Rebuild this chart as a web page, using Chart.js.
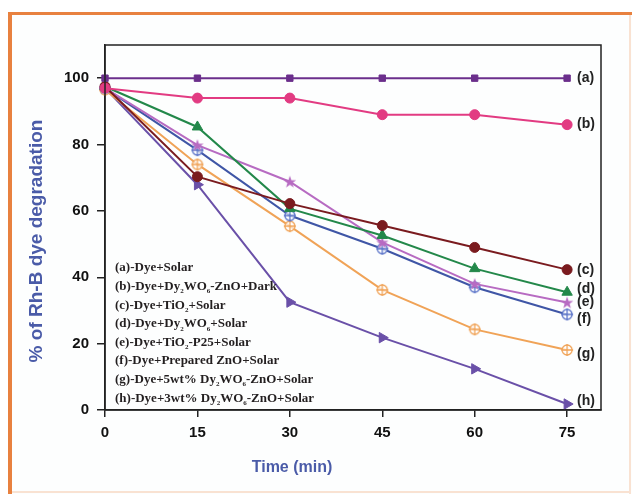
<!DOCTYPE html>
<html>
<head>
<meta charset="utf-8">
<script src="https://cdn.jsdelivr.net/npm/chart.js@4.4.1/dist/chart.umd.min.js"></script>
<style>
  html, body { margin: 0; padding: 0; background: #fff; }
  #cadre { width: 632px; height: 494px; }
</style>
</head>
<body>
<div id="cadre"><canvas id="graph"></canvas></div>
<script>
// temps d'irradiation (min)
const TEMPS = [0, 15, 30, 45, 60, 75];
const GRADUATIONS_Y = [0, 20, 40, 60, 80, 100];

// % de dégradation pour chaque échantillon
const SERIE_A = [100, 100, 100, 100, 100, 100];
const SERIE_B = [97, 94, 94, 89, 89, 86];
const SERIE_C = [97.5, 70.3, 62.2, 55.6, 49, 42.3];
const SERIE_D = [97.5, 85.3, 60.7, 52.6, 42.6, 35.5];
const SERIE_E = [97, 79.8, 68.8, 50.5, 38, 32.4];
const SERIE_F = [97, 78.3, 58.6, 48.6, 37, 28.8];
const SERIE_G = [96.5, 74, 55.4, 36.2, 24.3, 18.1];
const SERIE_H = [97, 67.9, 32.5, 21.8, 12.4, 1.8];

const ETIQUETTES = ['(a)', '(b)', '(c)', '(d)', '(e)', '(f)', '(g)', '(h)'];

// "_" + chiffre = indice
const LEGENDE = [
  '(a)-Dye+Solar',
  '(b)-Dye+Dy_2WO_6-ZnO+Dark',
  '(c)-Dye+TiO_2+Solar',
  '(d)-Dye+Dy_2WO_6+Solar',
  '(e)-Dye+TiO_2-P25+Solar',
  '(f)-Dye+Prepared ZnO+Solar',
  '(g)-Dye+5wt% Dy_2WO_6-ZnO+Solar',
  '(h)-Dye+3wt% Dy_2WO_6-ZnO+Solar',
];

const COULEURS = ['#6b2f8c', '#e23b82', '#7a1b1f', '#23884a', '#b76bc2', '#3f56a6', '#f0a357', '#6a50a8'];
const DECALAGE = [0, 0, 0, -3, 0, 5, 4, -3]; // petit décalage vertical des étiquettes (a)..(h)

// marqueurs dessinés à la main
function marqueur(type, couleur) {
  const c = document.createElement('canvas');
  c.width = 14; c.height = 14;
  const g = c.getContext('2d');
  g.strokeStyle = couleur;
  g.fillStyle = couleur;
  if (type === 'plus') {
    g.lineWidth = 1.3;
    g.fillStyle = 'rgba(255,255,255,0.7)';
    g.beginPath(); g.arc(7, 7, 5, 0, Math.PI * 2); g.fill(); g.stroke();
    g.beginPath(); g.moveTo(1, 7); g.lineTo(13, 7); g.moveTo(7, 1); g.lineTo(7, 13); g.stroke();
  } else if (type === 'etoile') {
    g.beginPath();
    for (let i = 0; i < 10; i++) {
      const r = i % 2 ? 2.6 : 6.5;
      const a = -Math.PI / 2 + i * Math.PI / 5;
      g.lineTo(7 + r * Math.cos(a), 7.5 + r * Math.sin(a));
    }
    g.closePath(); g.fill();
  }
  return c;
}

const STYLES = [
  { pointStyle: 'rect', pointRadius: 4.5 },
  { pointStyle: 'circle', pointRadius: 5 },
  { pointStyle: 'circle', pointRadius: 5 },
  { pointStyle: 'triangle', pointRadius: 6 },
  { pointStyle: marqueur('etoile', COULEURS[4]) },
  { pointStyle: marqueur('plus', '#5a73c8') },
  { pointStyle: marqueur('plus', '#f0a357') },
  { pointStyle: 'triangle', pointRadius: 6, rotation: 90 },
];

const series = [SERIE_A, SERIE_B, SERIE_C, SERIE_D, SERIE_E, SERIE_F, SERIE_G, SERIE_H];

const datasets = series.map((valeurs, i) => Object.assign({
  label: ETIQUETTES[i],
  data: valeurs.map((v, k) => ({ x: TEMPS[k], y: v })),
  borderColor: COULEURS[i],
  backgroundColor: COULEURS[i],
  borderWidth: 2,
  pointBorderWidth: 1,
  clip: false,
}, STYLES[i]));

const decor = {
  id: 'decor',
  beforeDraw(chart) {
    const ctx = chart.ctx;
    ctx.save();
    ctx.fillStyle = '#fdfefe';
    ctx.fillRect(10, 14, 622, 480);
    ctx.fillStyle = '#e8813f';
    ctx.fillRect(8, 12, 624, 3);
    ctx.fillRect(8, 12, 4, 482);
    ctx.fillStyle = '#f9e2d2';
    ctx.fillRect(629, 15, 2, 479);
    ctx.fillRect(12, 491, 619, 2);
    ctx.restore();
  },
  afterDraw(chart) {
    const ctx = chart.ctx;
    const a = chart.chartArea;
    ctx.save();
    // cadre du graphe
    ctx.strokeStyle = '#222';
    ctx.lineWidth = 1.5;
    ctx.strokeRect(a.left, a.top, a.right - a.left, a.bottom - a.top);

    // titres des axes
    ctx.fillStyle = '#4a5ba8';
    ctx.textAlign = 'center';
    ctx.textBaseline = 'middle';
    ctx.font = 'bold 16px "Liberation Sans", Arial, sans-serif';
    ctx.fillText('Time (min)', 292, 468);
    ctx.save();
    ctx.translate(37, 241);
    ctx.rotate(-Math.PI / 2);
    ctx.font = 'bold 19px "Liberation Sans", Arial, sans-serif';
    ctx.fillText('% of Rh-B dye degradation', 0, 0);
    ctx.restore();

    // étiquettes (a)..(h) en bout de courbe
    ctx.fillStyle = '#222';
    ctx.textAlign = 'left';
    ctx.font = 'bold 14px "Liberation Sans", Arial, sans-serif';
    chart.data.datasets.forEach((ds, i) => {
      const pts = chart.getDatasetMeta(i).data;
      const p = pts[pts.length - 1];
      ctx.fillText(ETIQUETTES[i], p.x + 10, p.y + DECALAGE[i]);
    });

    // légende en texte avec indices
    ctx.fillStyle = '#231f20';
    LEGENDE.forEach((txt, i) => {
      let x = 115;
      const y = 268 + i * 18.6;
      const morceaux = txt.split(/_(\d)/);
      morceaux.forEach((m, j) => {
        if (j % 2) {
          ctx.font = 'bold 7px "Liberation Serif", serif';
          ctx.fillText(m, x, y + 5);
          x += ctx.measureText(m).width;
        } else {
          ctx.font = 'bold 13px "Liberation Serif", serif';
          ctx.fillText(m, x, y);
          x += ctx.measureText(m).width;
        }
      });
    });
    ctx.restore();
  }
};

const axe = {
  grid: { drawOnChartArea: false, drawTicks: true, tickLength: 8, color: '#222', lineWidth: 1.5 },
  border: { display: true, color: '#222', width: 1.5 },
};

const config = {
  type: 'line',
  data: { datasets: datasets },
  options: {
    responsive: true,
    maintainAspectRatio: false,
    animation: false,
    layout: { padding: { top: 45, right: 31, left: 0, bottom: 0 } },
    plugins: { legend: { display: false }, tooltip: { enabled: false } },
    scales: {
      x: Object.assign({}, axe, {
        type: 'linear',
        min: 0,
        max: 80.5,
        grid: Object.assign({}, axe.grid, { tickLength: 7 }),
        ticks: { padding: 7, color: '#111', font: { family: '"Liberation Sans", Arial', size: 15, weight: 'bold' } },
        afterBuildTicks: (s) => { s.ticks = TEMPS.map(v => ({ value: v })); },
        afterFit: (s) => { s.height = 84; },
      }),
      y: Object.assign({}, axe, {
        min: 0,
        max: 110,
        ticks: { padding: 8, color: '#111', font: { family: '"Liberation Sans", Arial', size: 15, weight: 'bold' } },
        afterBuildTicks: (s) => { s.ticks = GRADUATIONS_Y.map(v => ({ value: v })); },
        afterFit: (s) => { s.width = 105; },
      }),
    }
  },
  plugins: [decor]
};

const graph = new Chart(document.getElementById('graph'), config);
</script>
</body>
</html>
